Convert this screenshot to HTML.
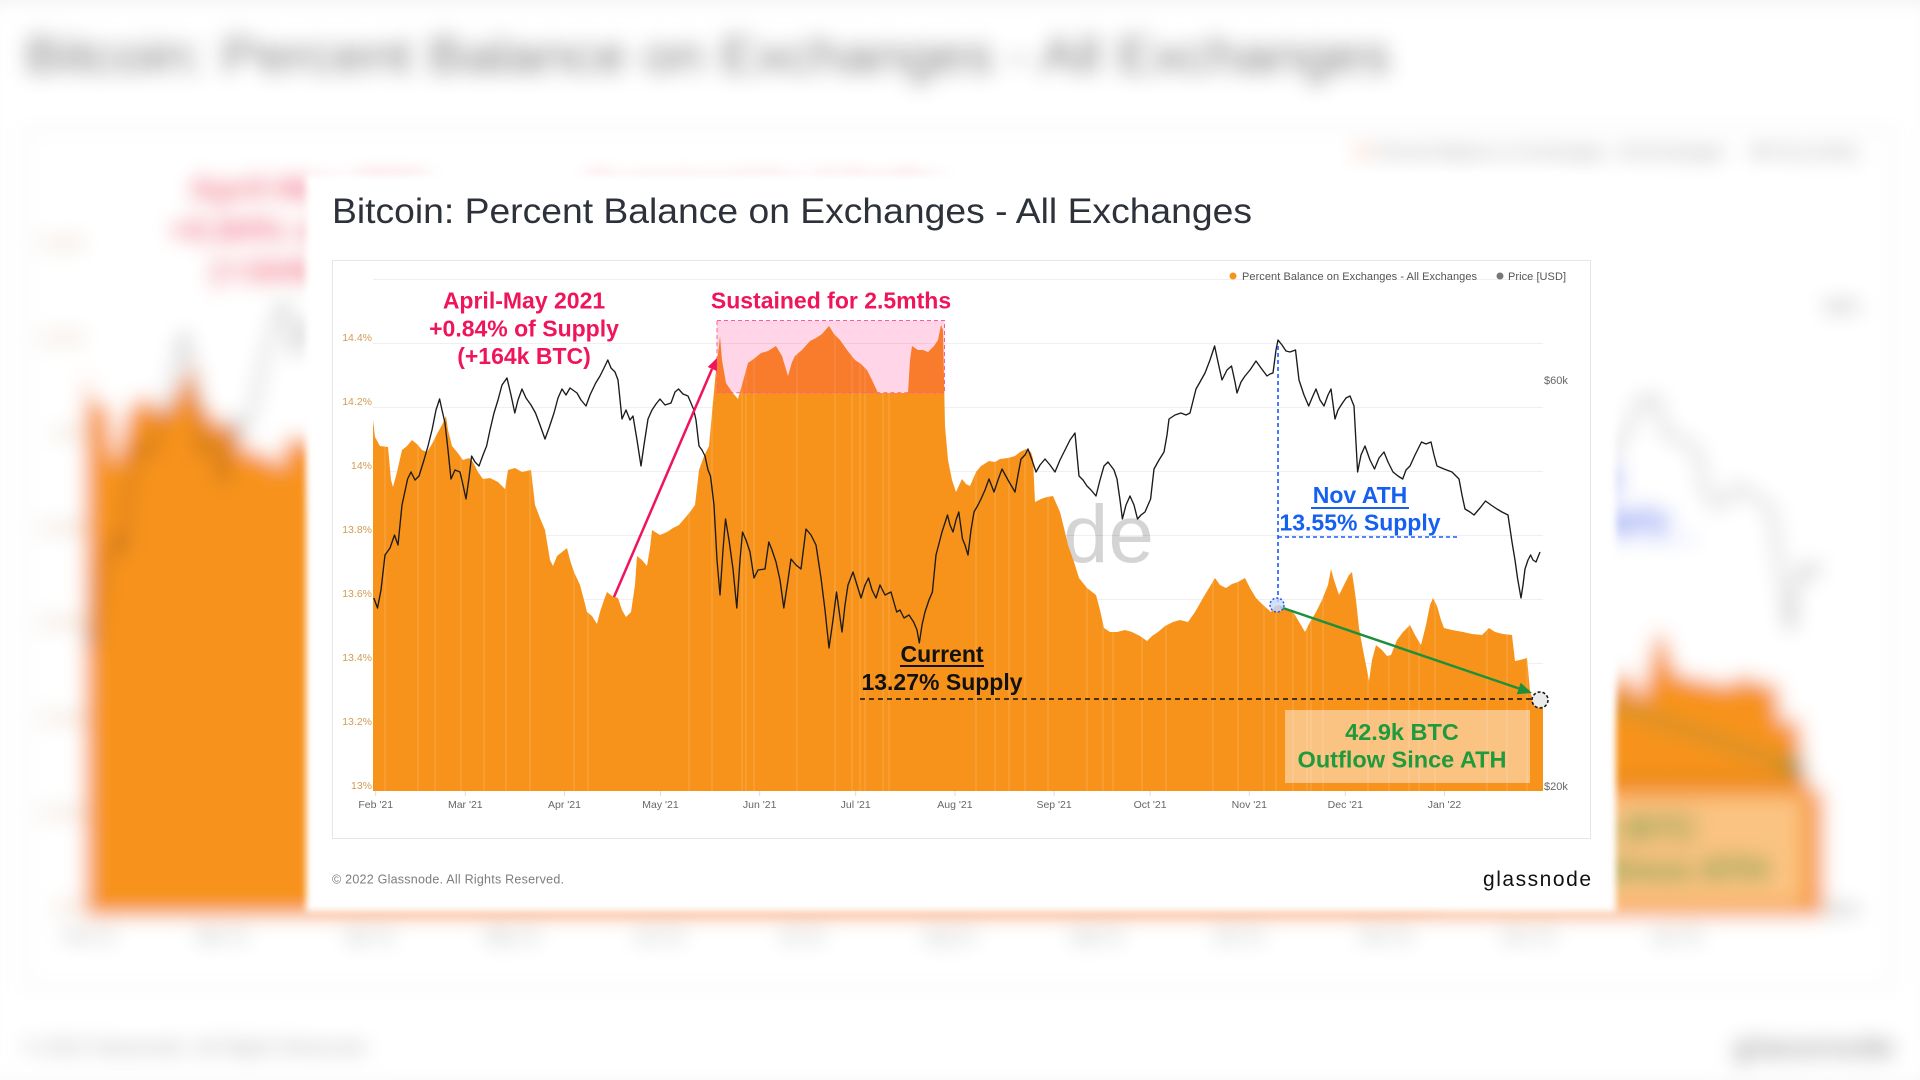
<!DOCTYPE html>
<html><head><meta charset="utf-8"><title>Bitcoin: Percent Balance on Exchanges - All Exchanges</title>
<style>html,body{margin:0;padding:0;background:#f1f1f1;overflow:hidden}svg{display:block}</style></head>
<body>
<svg width="1920" height="1080" viewBox="0 0 1920 1080" xmlns="http://www.w3.org/2000/svg" font-family="'Liberation Sans', Arial, sans-serif">
<defs>
<clipPath id="oc"><path d="M373,791 L373,420 375,437 380,446 388,447 391,480 393,487 397,472 402,450 407,446 412,440 418,445 422,450 427,452 432,444 438,432 442,425 446,416 448,430 452,446 457,452 463,460 469,458 473,462 478,472 483,479 490,478 498,482 505,489 508,470 515,468 522,472 531,470 535,505 540,518 545,530 550,560 553,566 557,556 562,552 567,548 570,560 574,572 580,585 584,600 587,612 592,616 597,624 600,612 604,600 607,592 612,596 618,598 622,610 626,617 631,612 635,585 637,556 642,560 647,566 650,548 652,530 660,535 667,532 673,528 679,525 685,518 690,512 695,505 699,470 704,456 709,446 712,413 716,370 719,345 720,336 722,360 726,383 732,392 738,399 742,385 748,363 755,358 761,353 768,351 776,346 782,356 788,376 792,362 795,356 802,350 810,341 816,338 822,334 829,326 834,334 840,340 847,350 855,360 861,364 867,370 872,380 878,393 908,393 910,360 912,346 918,350 923,350 928,352 934,346 938,340 941,325 943,330 945,426 948,460 952,480 956,492 962,479 966,484 970,486 976,472 981,466 989,461 995,462 1000,459 1008,458 1015,456 1020,452 1026,449 1031,452 1033,459 1035,502 1041,499 1047,497 1053,496 1060,512 1064,528 1068,545 1074,562 1079,578 1087,588 1096,595 1100,610 1104,628 1110,632 1117,632 1125,630 1132,632 1140,636 1147,641 1152,636 1158,632 1165,626 1173,622 1180,620 1188,622 1195,612 1203,598 1209,588 1215,578 1220,585 1226,588 1232,584 1238,582 1245,578 1250,588 1256,598 1262,604 1271,612 1275,606 1279,605 1285,608 1293,612 1298,620 1305,632 1310,622 1316,612 1322,600 1328,585 1331,569 1334,580 1339,595 1344,585 1349,575 1352,572 1356,600 1359,628 1363,650 1367,670 1369,681 1372,660 1376,645 1382,650 1387,656 1391,655 1397,640 1403,632 1410,625 1415,635 1421,645 1426,625 1430,605 1433,598 1437,606 1441,620 1444,628 1452,630 1463,632 1472,634 1482,635 1489,628 1495,632 1503,634 1512,635 1515,661 1520,660 1527,658 1530,691 1533,700 1536,708 1540,706 1543,706 1543,791 Z"/></clipPath>
<filter id="bl" x="0" y="0" width="1920" height="1080" filterUnits="userSpaceOnUse"><feGaussianBlur stdDeviation="10"/></filter>
<filter id="sf" x="270" y="140" width="1380" height="820" filterUnits="userSpaceOnUse"><feGaussianBlur stdDeviation="3.5"/></filter>
</defs>

<rect width="1920" height="1080" fill="#f1f1f1"/>

<!-- ============ BLURRED BACKGROUND COPY ============ -->
<g filter="url(#bl)">
<g transform="matrix(1.485 0 0 1.485 -468.5 -258.3)">
<rect x="306" y="175" width="1310" height="730" fill="#fff"/>
<text x="332" y="223" font-size="35" fill="#2d3139" textLength="920" lengthAdjust="spacingAndGlyphs">Bitcoin: Percent Balance on Exchanges - All Exchanges</text>
<rect x="332.5" y="260.5" width="1258" height="578" fill="#fff" stroke="#e0e0e0"/>
<circle cx="1233" cy="276" r="3.5" fill="#f7931a"/>
<text x="1242" y="280" font-size="11" fill="#555" textLength="235">Percent Balance on Exchanges - All Exchanges</text>
<circle cx="1500" cy="276" r="3.5" fill="#777"/>
<text x="1508" y="280" font-size="11" fill="#555" textLength="58">Price [USD]</text>
<g font-size="10.5" fill="#d39b52" text-anchor="end">
<text x="372" y="341">14.4%</text><text x="372" y="405">14.2%</text><text x="372" y="469">14%</text><text x="372" y="533">13.8%</text><text x="372" y="597">13.6%</text><text x="372" y="661">13.4%</text><text x="372" y="725">13.2%</text><text x="372" y="789">13%</text>
</g>
<g font-size="10.5" fill="#666" text-anchor="middle">
<text x="375.7" y="808">Feb &#39;21</text><text x="465.3" y="808">Mar &#39;21</text><text x="564.5" y="808">Apr &#39;21</text><text x="660.5" y="808">May &#39;21</text><text x="759.7" y="808">Jun &#39;21</text><text x="855.7" y="808">Jul &#39;21</text><text x="954.9" y="808">Aug &#39;21</text><text x="1054.1" y="808">Sep &#39;21</text><text x="1150.1" y="808">Oct &#39;21</text><text x="1249.3" y="808">Nov &#39;21</text><text x="1345.3" y="808">Dec &#39;21</text><text x="1444.5" y="808">Jan &#39;22</text>
</g>
<text x="1544" y="384" font-size="11" fill="#666">$60k</text>
<text x="1544" y="790" font-size="11" fill="#666">$20k</text>
<rect x="373" y="300" width="1170" height="491" fill="#f7931a" clip-path="url(#oc)"/>
<rect x="717" y="320.5" width="227.5" height="72.3" fill="#ff1478" fill-opacity="0.18" stroke="#ff5c93" stroke-dasharray="4 3"/>
<polyline fill="none" stroke="#1b1b1b" stroke-width="1.5" points="373.8,598 377.5,608 381,590 385,555 390,548 394.5,535 398,545 402,505 407.6,479 411,472 415,480 419,476 424,460 428,446 432,430 436,410 439.6,399 442,410 445,423 448,450 451,479 455,470 460,472 463,485 466,499 469,478 471.6,456 475,462 479,466 483,455 486.6,446 490,430 494,413 498,400 502,385 507,378 511,395 514.8,413 518,400 522,389 526,398 531,405 535.5,413 540,425 545,439 549,428 554,413 558,398 562,389 566,395 570,388 577,393 581,400 586,406 590,395 595.7,383 600,376 604,368 607.8,360 611,368 615,372 618,380 622,419 626,410 630,420 633,416 637,440 641,466 644,445 648,419 652,410 656,404 660,399 665,405 671,403 675,392 678.5,389 683,394 688,396 693.5,409 696,420 699,446 702,450 705,456 708,470 710.5,476 714,505 717,560 720,595 723,550 725.5,519 729,540 733,569 736.8,608 740,560 742.5,532 746,540 750,552 754,578 758,570 765,569 768.8,542 772,550 776,562 780,580 783.8,608 788,580 791,559 796,565 801,569 806,529 811,535 816,545 821,578 825,610 829,648 833,620 836.5,592 839,610 842,632 845,605 848,585 853,572 857,585 861,598 865,585 868.5,578 872,590 876,598 880,585 885,595 891,592 896.7,612 900,610 904,618 909,615 913.6,622 917,630 919.3,643 922,625 925,612 929,600 932.4,592 936,555 942,532 947.5,515 950,525 953,532 956,520 958.8,512 962.5,539 965,545 968,555 971,530 974,512 978,505 981,499 985,490 989,479 994,492 998,480 1002,469 1008,480 1015,492 1018,475 1021,459 1025,455 1028,449 1032,460 1036,472 1040,465 1045,459 1050,465 1055,472 1060,460 1064,452 1070,440 1075,433 1079,476 1083,480 1087,486 1091,490 1096,496 1100,480 1104,466 1108,462 1111,466 1114,470 1117,479 1120,500 1122.4,519 1126,505 1130,496 1134,505 1137.5,519 1141,515 1145,512 1148,505 1150.6,499 1154,469 1159,460 1164,452 1167,435 1169,419 1175,415 1181,413 1186,415 1190,413 1196,389 1200,382 1205,373 1210,360 1214.6,346 1218,362 1222,380 1227,370 1231.5,366 1235,382 1237,393 1241,382 1245,376 1250,370 1256,361 1261,368 1267,376 1270,374 1273,373 1276,350 1278,340 1282,345 1286,351 1290,352 1295.5,350 1299,380 1304,395 1308.7,406 1312,398 1316,389 1320,400 1324,406 1328,395 1331,389 1335,419 1338,410 1342.5,403 1346,398 1350,396 1354,406 1357.6,472 1361,455 1365,446 1370,460 1374.5,469 1379,458 1384,452 1388,462 1393,472 1398,476 1402.7,479 1406,470 1410,466 1415,455 1421.5,442 1426,444 1431,442 1434,455 1437,466 1444,469 1452,472 1459,479 1462,495 1465,509 1470,512 1474,515 1480,508 1485.5,501 1491,505 1497,509 1502,512 1508,515 1512,542 1515,560 1517.5,578 1521,598 1523,585 1525,569 1528,560 1530.6,555 1533,560 1536,562 1540,552"/>
<g font-weight="bold" font-size="23" text-anchor="middle">
<g fill="#f0145a"><text x="524" y="308.5">April-May 2021</text><text x="524" y="336.5">+0.84% of Supply</text><text x="524" y="364">(+164k BTC)</text><text x="831" y="308.5">Sustained for 2.5mths</text></g>
<g fill="#111"><text x="942" y="662">Current</text><text x="942" y="690">13.27% Supply</text></g>
<g fill="#1560f0"><text x="1360" y="503">Nov ATH</text><text x="1360" y="530.5">13.55% Supply</text></g>
</g>
<line x1="614" y1="597" x2="712" y2="369" stroke="#f0145a" stroke-width="2.5"/>
<polygon points="717,358 716.8,371 707.7,367" fill="#f0145a"/>
<line x1="900" y1="666" x2="984" y2="666" stroke="#111" stroke-width="2"/>
<line x1="860" y1="699" x2="1533" y2="699" stroke="#111" stroke-width="1.6" stroke-dasharray="5 4"/>
<line x1="1311" y1="508" x2="1409" y2="508" stroke="#1560f0" stroke-width="2"/>
<path d="M1278,346V605 M1278,537H1459" stroke="#1a5cf5" stroke-width="1.6" stroke-dasharray="4 3" fill="none"/>
<rect x="1285" y="710" width="245" height="73" fill="#fff" fill-opacity="0.45"/>
<g font-weight="bold" font-size="23.5" text-anchor="middle" fill="#1f9a3c"><text x="1402" y="740">42.9k BTC</text><text x="1402" y="767.5">Outflow Since ATH</text></g>
<line x1="1280" y1="607" x2="1519" y2="688.5" stroke="#1f8f3a" stroke-width="2.5"/>
<polygon points="1532,693 1516.8,694.2 1520.7,682.8" fill="#1f8f3a"/>
<text x="332" y="883.5" font-size="12.5" fill="#7d7d7d" textLength="232">© 2022 Glassnode. All Rights Reserved.</text>
<text x="1483" y="886" font-size="21" fill="#111" textLength="108">glassnode</text>
</g>
</g>

<!-- ============ FOREGROUND PANEL ============ -->
<rect x="306" y="174" width="1310" height="738" fill="#fff" filter="url(#sf)"/>

<text x="332" y="223" font-size="35" fill="#2d3139" textLength="920" lengthAdjust="spacingAndGlyphs">Bitcoin: Percent Balance on Exchanges - All Exchanges</text>
<rect x="332.5" y="260.5" width="1258" height="578" fill="#fff" stroke="#e6e6e6"/>

<!-- gridlines -->
<path d="M373,279.5H1543 M373,343.5H1543 M373,407.5H1543 M373,471.5H1543 M373,535.5H1543 M373,599.5H1543 M373,663.5H1543 M373,727.5H1543" stroke="#efefef" stroke-width="1" fill="none"/>

<!-- legend -->
<circle cx="1233" cy="276" r="3.5" fill="#f7931a"/>
<text x="1242" y="280" font-size="11" fill="#555" textLength="235">Percent Balance on Exchanges - All Exchanges</text>
<circle cx="1500" cy="276" r="3.5" fill="#777"/>
<text x="1508" y="280" font-size="11" fill="#555" textLength="58">Price [USD]</text>

<!-- watermark -->
<text x="1154" y="562" font-size="82" fill="#000" fill-opacity="0.17" text-anchor="end">glassnode</text>

<!-- orange area -->
<rect x="373" y="300" width="1170" height="491" fill="#f7931a" clip-path="url(#oc)"/>
<g clip-path="url(#oc)"><path d="M385,300V791 M418,300V791 M435,300V791 M461,300V791 M484,300V791 M506,300V791 M530,300V791 M574,300V791 M588,300V791 M689,300V791 M712,300V791 M742,300V791 M746,300V791 M754,300V791 M797,300V791 M835,300V791 M852,300V791 M860,300V791 M865,300V791 M883,300V791 M889,300V791 M976,300V791 M995,300V791 M1009,300V791 M1025,300V791 M1048,300V791 M1087,300V791 M1103,300V791 M1113,300V791 M1142,300V791 M1166,300V791 M1213,300V791 M1238,300V791 M1264,300V791 M1276,300V791 M1293,300V791 M1307,300V791 M1311,300V791 M1323,300V791 M1368,300V791 M1389,300V791 M1409,300V791 M1419,300V791 M1435,300V791 M1487,300V791 M1507,300V791 M1527,300V791" stroke="#fff" stroke-opacity="0.2" stroke-width="1"/></g>

<!-- pink sustained box -->
<rect x="717" y="320.5" width="227.5" height="72.3" fill="#ff1478" fill-opacity="0.18" stroke="#ff5c93" stroke-width="1" stroke-dasharray="4 3"/>

<!-- ticks -->
<path d="M375.7,791V796 M465.3,791V796 M564.5,791V796 M660.5,791V796 M759.7,791V796 M855.7,791V796 M954.9,791V796 M1054.1,791V796 M1150.1,791V796 M1249.3,791V796 M1345.3,791V796 M1444.5,791V796" stroke="#dcdcdc" stroke-width="1"/>

<!-- price -->
<polyline fill="none" stroke="#1b1b1b" stroke-width="1.35" stroke-linejoin="round" points="373.8,598 377.5,608 381,590 385,555 390,548 394.5,535 398,545 402,505 407.6,479 411,472 415,480 419,476 424,460 428,446 432,430 436,410 439.6,399 442,410 445,423 448,450 451,479 455,470 460,472 463,485 466,499 469,478 471.6,456 475,462 479,466 483,455 486.6,446 490,430 494,413 498,400 502,385 507,378 511,395 514.8,413 518,400 522,389 526,398 531,405 535.5,413 540,425 545,439 549,428 554,413 558,398 562,389 566,395 570,388 577,393 581,400 586,406 590,395 595.7,383 600,376 604,368 607.8,360 611,368 615,372 618,380 622,419 626,410 630,420 633,416 637,440 641,466 644,445 648,419 652,410 656,404 660,399 665,405 671,403 675,392 678.5,389 683,394 688,396 693.5,409 696,420 699,446 702,450 705,456 708,470 710.5,476 714,505 717,560 720,595 723,550 725.5,519 729,540 733,569 736.8,608 740,560 742.5,532 746,540 750,552 754,578 758,570 765,569 768.8,542 772,550 776,562 780,580 783.8,608 788,580 791,559 796,565 801,569 806,529 811,535 816,545 821,578 825,610 829,648 833,620 836.5,592 839,610 842,632 845,605 848,585 853,572 857,585 861,598 865,585 868.5,578 872,590 876,598 880,585 885,595 891,592 896.7,612 900,610 904,618 909,615 913.6,622 917,630 919.3,643 922,625 925,612 929,600 932.4,592 936,555 942,532 947.5,515 950,525 953,532 956,520 958.8,512 962.5,539 965,545 968,555 971,530 974,512 978,505 981,499 985,490 989,479 994,492 998,480 1002,469 1008,480 1015,492 1018,475 1021,459 1025,455 1028,449 1032,460 1036,472 1040,465 1045,459 1050,465 1055,472 1060,460 1064,452 1070,440 1075,433 1079,476 1083,480 1087,486 1091,490 1096,496 1100,480 1104,466 1108,462 1111,466 1114,470 1117,479 1120,500 1122.4,519 1126,505 1130,496 1134,505 1137.5,519 1141,515 1145,512 1148,505 1150.6,499 1154,469 1159,460 1164,452 1167,435 1169,419 1175,415 1181,413 1186,415 1190,413 1196,389 1200,382 1205,373 1210,360 1214.6,346 1218,362 1222,380 1227,370 1231.5,366 1235,382 1237,393 1241,382 1245,376 1250,370 1256,361 1261,368 1267,376 1270,374 1273,373 1276,350 1278,340 1282,345 1286,351 1290,352 1295.5,350 1299,380 1304,395 1308.7,406 1312,398 1316,389 1320,400 1324,406 1328,395 1331,389 1335,419 1338,410 1342.5,403 1346,398 1350,396 1354,406 1357.6,472 1361,455 1365,446 1370,460 1374.5,469 1379,458 1384,452 1388,462 1393,472 1398,476 1402.7,479 1406,470 1410,466 1415,455 1421.5,442 1426,444 1431,442 1434,455 1437,466 1444,469 1452,472 1459,479 1462,495 1465,509 1470,512 1474,515 1480,508 1485.5,501 1491,505 1497,509 1502,512 1508,515 1512,542 1515,560 1517.5,578 1521,598 1523,585 1525,569 1528,560 1530.6,555 1533,560 1536,562 1540,552"/>

<!-- axis labels -->
<g font-size="10.5" fill="#d39b52" text-anchor="end">
<text x="372" y="341">14.4%</text><text x="372" y="405">14.2%</text><text x="372" y="469">14%</text><text x="372" y="533">13.8%</text><text x="372" y="597">13.6%</text><text x="372" y="661">13.4%</text><text x="372" y="725">13.2%</text><text x="372" y="789">13%</text>
</g>
<g font-size="10.5" fill="#666" text-anchor="middle">
<text x="375.7" y="808">Feb &#39;21</text><text x="465.3" y="808">Mar &#39;21</text><text x="564.5" y="808">Apr &#39;21</text><text x="660.5" y="808">May &#39;21</text><text x="759.7" y="808">Jun &#39;21</text><text x="855.7" y="808">Jul &#39;21</text><text x="954.9" y="808">Aug &#39;21</text><text x="1054.1" y="808">Sep &#39;21</text><text x="1150.1" y="808">Oct &#39;21</text><text x="1249.3" y="808">Nov &#39;21</text><text x="1345.3" y="808">Dec &#39;21</text><text x="1444.5" y="808">Jan &#39;22</text>
</g>
<text x="1544" y="384" font-size="11" fill="#666">$60k</text>
<text x="1544" y="790" font-size="11" fill="#666">$20k</text>

<!-- annotations -->
<line x1="614" y1="597" x2="712" y2="369" stroke="#f0145a" stroke-width="2.5"/>
<polygon points="717,358 716.8,371 707.7,367" fill="#f0145a"/>

<line x1="860" y1="699" x2="1533" y2="699" stroke="#111" stroke-width="1.6" stroke-dasharray="5 4"/>
<line x1="900" y1="666" x2="984" y2="666" stroke="#111" stroke-width="2"/>

<path d="M1278,346V605 M1278,537H1459" stroke="#1a5cf5" stroke-width="1.6" stroke-dasharray="4 3" fill="none"/>
<line x1="1311" y1="508" x2="1409" y2="508" stroke="#1560f0" stroke-width="2"/>

<rect x="1285" y="710" width="245" height="73" fill="#fff" fill-opacity="0.45"/>

<line x1="1280" y1="607" x2="1519" y2="688.5" stroke="#1f8f3a" stroke-width="2.5"/>
<polygon points="1532,693 1516.8,694.2 1520.7,682.8" fill="#1f8f3a"/>

<circle cx="1277" cy="605" r="7" fill="#c9d8ff" fill-opacity="0.8" stroke="#1a5cf5" stroke-width="1.5" stroke-dasharray="2 2"/>
<circle cx="1540" cy="700" r="8" fill="#e8e8e8" fill-opacity="0.85" stroke="#111" stroke-width="1.5" stroke-dasharray="3 2"/>

<g font-weight="bold" font-size="23" text-anchor="middle">
<g fill="#f0145a"><text x="524" y="308.5">April-May 2021</text><text x="524" y="336.5">+0.84% of Supply</text><text x="524" y="364">(+164k BTC)</text><text x="831" y="308.5">Sustained for 2.5mths</text></g>
<g fill="#111"><text x="942" y="662">Current</text><text x="942" y="690">13.27% Supply</text></g>
<g fill="#1560f0"><text x="1360" y="503">Nov ATH</text><text x="1360" y="530.5">13.55% Supply</text></g>
</g>
<g font-weight="bold" font-size="23.5" text-anchor="middle" fill="#1f9a3c"><text x="1402" y="740">42.9k BTC</text><text x="1402" y="767.5">Outflow Since ATH</text></g>

<!-- footer -->
<text x="332" y="883.5" font-size="12.5" fill="#7d7d7d" textLength="232">© 2022 Glassnode. All Rights Reserved.</text>
<text x="1483" y="886" font-size="21" fill="#111" textLength="108">glassnode</text>
</svg>
</body></html>
